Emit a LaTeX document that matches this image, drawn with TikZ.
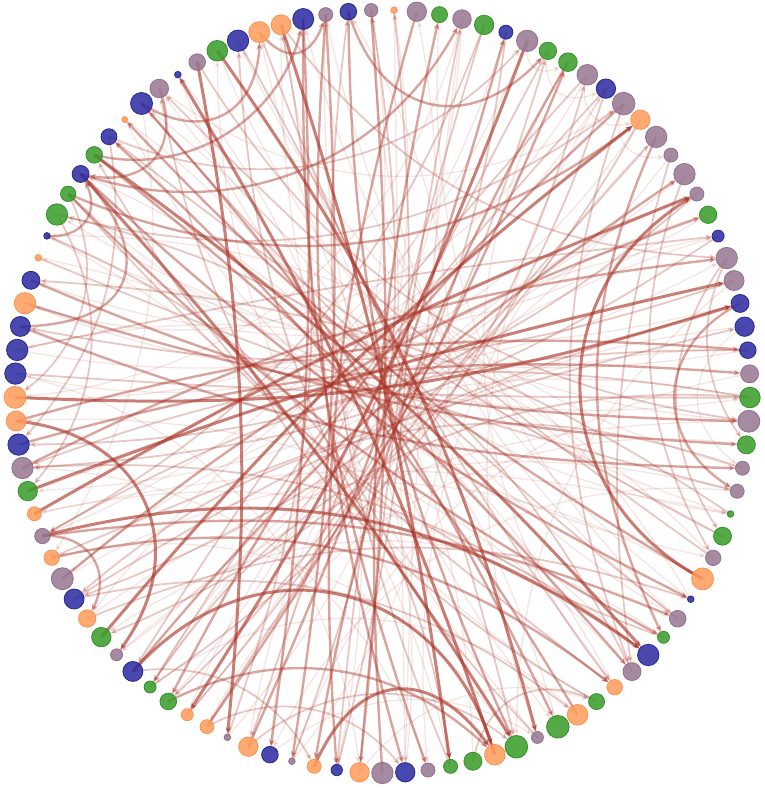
\documentclass[tikz,border=0pt]{standalone}
\usetikzlibrary{arrows.meta}
\definecolor{ecol}{RGB}{168,48,34}
\definecolor{cB}{RGB}{40,40,160}\definecolor{dB}{RGB}{30,30,140}
\definecolor{cO}{RGB}{255,155,90}\definecolor{dO}{RGB}{255,140,70}
\definecolor{cG}{RGB}{55,155,40}\definecolor{dG}{RGB}{40,140,30}
\definecolor{cP}{RGB}{150,118,145}\definecolor{dP}{RGB}{140,105,135}
\begin{document}
\begin{tikzpicture}[x=1pt,y=-1pt,
  e/.style={draw=ecol, -{Stealth[length=7pt,width=5.5pt]}},
  eS/.style={e, line width=3pt, opacity=0.62},
  eM/.style={e, line width=2.4pt, opacity=0.44},
  eW/.style={e, line width=1.8pt, opacity=0.27},
  eF/.style={e, line width=1.3pt, opacity=0.13},
  anc/.style={circle, inner sep=0pt, outer sep=0pt},
  vis/.style={circle, inner sep=0pt, fill opacity=0.85, draw opacity=0.9, line width=0.8pt}]
\useasboundingbox (0,0) rectangle (764,788);
\foreach \k/\cc/\rr in {1/O/3.3, 2/P/9.7, 3/G/8, 4/P/9.3, 5/G/9.7, 6/B/7, 7/P/10.7, 8/G/8.7, 9/G/9.3, 10/P/10.3, 11/B/9.7, 12/P/11.3, 13/O/9.7, 14/P/10.7, 15/P/7, 16/P/10.7, 17/P/7, 18/G/8.7, 19/B/6, 20/P/10.7, 21/P/10, 22/B/9, 23/B/9.7, 24/B/8.3, 25/P/9, 26/G/10.3, 27/P/11, 28/G/9, 29/P/7, 30/P/7, 31/G/3.3, 32/G/9, 33/P/7.7, 34/O/11, 35/B/3.3, 36/P/8.3, 37/G/6, 38/B/10.7, 39/P/9, 40/O/7.7, 41/G/8, 42/O/10.3, 43/G/11.3, 44/P/6, 45/G/11.3, 46/O/10.3, 47/G/9, 48/G/7, 49/P/7, 50/B/9.7, 51/P/10.7, 52/O/9.7, 53/B/5.7, 54/O/7, 55/P/3.3, 56/B/8.3, 57/O/9.7, 58/P/3.3, 59/O/7, 60/O/6, 61/G/8.3, 62/G/6, 63/B/10, 64/P/6, 65/G/9.7, 66/O/8.7, 67/B/10, 68/P/11, 69/O/7.7, 70/P/7.7, 71/O/7, 72/G/9.7, 73/P/10.7, 74/B/10.7, 75/O/10, 76/O/11, 77/B/10.7, 78/B/10.7, 79/B/10, 80/O/10.7, 81/B/9, 82/O/3.3, 83/B/3.3, 84/G/10.7, 85/G/7.7, 86/B/8.5, 87/G/8.3, 88/B/8, 89/O/3, 90/B/11, 91/P/9.3, 92/B/3.3, 93/P/8.3, 94/G/10.3, 95/B/10.7, 96/O/10.5, 97/O/10, 98/B/10.5, 99/P/7, 100/B/8.3, 101/P/6.7}{
  \pgfmathsetmacro\ang{1.8+(\k-1)*3.5643564}
  \node[anc, minimum size={2*\rr*1pt}] (n\k) at ({382.5+367.5*sin(\ang)},{391.5-381.5*cos(\ang)}) {};
}
% faint edges
\foreach \a/\b/\bd/\lo in {7/9/-60/1.5, 10/13/-60/1.4, 12/15/-60/1.4, 8/11/-60/1.5, 23/29/-55/1.3, 52/41/35/1, 56/44/35/1, 90/69/20/1, 1/50/0/1, 4/50/-3/1,
 1/60/25/1, 3/36/-25/1, 4/64/25/1, 6/70/25/1, 9/40/-35/1, 10/80/40/1, 11/44/-25/1, 13/77/35/1, 14/49/-25/1, 15/72/25/1, 17/57/-30/1, 18/81/25/1, 19/66/-20/1, 21/45/-25/1, 23/62/-25/1, 24/84/20/1, 25/55/-30/1, 26/68/-25/1, 27/91/25/1, 28/59/-35/1, 29/95/25/1, 30/56/-35/1, 31/71/-12/1, 32/98/25/1, 33/78/-30/1, 35/99/20/1, 36/101/25/1, 37/65/-35/1, 38/96/20/1, 39/75/-25/1, 40/82/-25/1, 41/94/30/1, 42/62/-40/1, 43/86/-25/1, 44/97/20/1, 45/69/-35/1, 47/90/-25/1, 48/83/-25/1, 49/73/-35/1, 50/89/-30/1, 53/92/-25/1, 55/100/-35/1, 58/2/-25/1, 60/19/25/1, 62/24/30/1, 64/27/20/1, 66/30/25/1, 68/34/30/1, 71/38/25/1, 72/7/-25/1, 76/11/-30/1, 78/16/-25/1, 80/20/-25/1, 83/22/-20/1, 85/26/-25/1, 89/33/-25/1, 91/12/-35/1, 94/31/-25/1, 97/36/-25/1, 99/43/-20/1, 101/61/25/1,
 18/56/-35/1, 4/76/35/1, 92/31/-30/1, 35/83/-30/1, 77/52/35/1}
 {\draw[eF] (n\a.center) to[bend left=\bd, looseness=\lo] (n\b);}
% weak edges
\foreach \a/\b/\bd/\lo in {47/41/50/1.2, 85/76/40/1, 84/72/35/1, 88/74/25/1, 63/54/35/1, 57/45/40/1, 59/50/40/1, 20/32/-35/1, 16/33/-25/1, 12/39/-20/1, 15/39/-12/1, 84/12/-25/1, 88/7/-35/1, 67/42/25/1, 66/35/20/1, 20/28/-30/1, 52/4/3/1, 85/40/-5/1, 36/90/5/1, 33/91/5/1, 32/88/5/1, 82/30/-4/1, 77/26/-2/1, 69/23/5/1, 67/22/8/1, 11/62/-5/1, 59/14/5/1, 78/19/3/1, 10/63/-5/1, 8/57/-5/1,
 5/70/20/1, 6/61/20/1, 11/65/25/1, 13/67/20/1, 17/74/20/1, 19/73/15/1, 21/79/15/1, 24/70/-15/1, 26/73/-15/1, 31/81/-15/1, 37/87/20/1, 39/84/-25/1, 41/91/25/1, 44/95/20/1, 48/100/15/1, 53/1/-10/1, 55/101/-15/1, 58/97/-15/1, 60/8/-12/1, 62/10/-20/1, 26/62/-30/1, 29/67/-30/1, 97/20/-25/1, 93/27/-25/1, 83/48/30/1, 96/40/-8/1, 95/45/8/1, 5/53/-6/1, 73/38/20/1}
 {\draw[eW] (n\a.center) to[bend left=\bd, looseness=\lo] (n\b);}
% medium edges
\foreach \a/\b/\bd/\lo in {96/99/-60/1.6, 90/96/-60/1.4, 91/86/60/1.4, 83/86/-60/1.35, 79/86/-65/1.75, 100/8/-60/1.4, 70/66/60/1.3, 22/30/-60/1.3, 61/46/35/1, 86/4/-40/1, 85/13/-30/1, 87/98/-45/1, 69/40/25/1, 14/37/-25/1, 70/36/15/1, 2/53/-10/1, 51/3/8/1, 99/55/6/1, 101/52/5/1, 98/56/5/1, 99/50/-10/1, 98/49/-10/1, 100/45/-12/1, 90/43/8/1, 42/88/-8/1, 87/39/5/1, 85/37/-8/1, 86/35/-8/1, 34/89/8/1, 79/29/-10/1, 81/28/-10/1, 80/27/-8/1, 74/25/10/1, 75/24/10/1, 73/20/10/1, 68/18/10/1, 12/61/-10/1, 9/54/-10/1, 59/9/-6/1, 57/6/-4/1, 63/16/8/1}
 {\draw[eM] (n\a.center) to[bend left=\bd, looseness=\lo] (n\b);}
% strong edges
\foreach \a/\b/\bd/\lo in {75/64/60/1.3, 93/58/8/1, 54/46/60/1.5, 63/46/60/1.25, 34/17/60/1.2, 70/38/25/1, 97/48/5/1, 71/17/4/1, 87/38/6/1, 65/13/6/1, 7/60/6/1, 94/44/10/1, 86/45/5/1, 46/92/-6/1, 72/21/4/1, 76/22/-10/1}
 {\draw[eS] (n\a.center) to[bend left=\bd, looseness=\lo] (n\b);}
% visible nodes
\foreach \k/\cc/\rr in {1/O/3.3, 2/P/9.7, 3/G/8, 4/P/9.3, 5/G/9.7, 6/B/7, 7/P/10.7, 8/G/8.7, 9/G/9.3, 10/P/10.3, 11/B/9.7, 12/P/11.3, 13/O/9.7, 14/P/10.7, 15/P/7, 16/P/10.7, 17/P/7, 18/G/8.7, 19/B/6, 20/P/10.7, 21/P/10, 22/B/9, 23/B/9.7, 24/B/8.3, 25/P/9, 26/G/10.3, 27/P/11, 28/G/9, 29/P/7, 30/P/7, 31/G/3.3, 32/G/9, 33/P/7.7, 34/O/11, 35/B/3.3, 36/P/8.3, 37/G/6, 38/B/10.7, 39/P/9, 40/O/7.7, 41/G/8, 42/O/10.3, 43/G/11.3, 44/P/6, 45/G/11.3, 46/O/10.3, 47/G/9, 48/G/7, 49/P/7, 50/B/9.7, 51/P/10.7, 52/O/9.7, 53/B/5.7, 54/O/7, 55/P/3.3, 56/B/8.3, 57/O/9.7, 58/P/3.3, 59/O/7, 60/O/6, 61/G/8.3, 62/G/6, 63/B/10, 64/P/6, 65/G/9.7, 66/O/8.7, 67/B/10, 68/P/11, 69/O/7.7, 70/P/7.7, 71/O/7, 72/G/9.7, 73/P/10.7, 74/B/10.7, 75/O/10, 76/O/11, 77/B/10.7, 78/B/10.7, 79/B/10, 80/O/10.7, 81/B/9, 82/O/3.3, 83/B/3.3, 84/G/10.7, 85/G/7.7, 86/B/8.5, 87/G/8.3, 88/B/8, 89/O/3, 90/B/11, 91/P/9.3, 92/B/3.3, 93/P/8.3, 94/G/10.3, 95/B/10.7, 96/O/10.5, 97/O/10, 98/B/10.5, 99/P/7, 100/B/8.3, 101/P/6.7}{
  \node[vis, minimum size={2*\rr*1pt}, fill=c\cc, draw=d\cc] (v\k) at (n\k.center) {};
}
\end{tikzpicture}
\end{document}
